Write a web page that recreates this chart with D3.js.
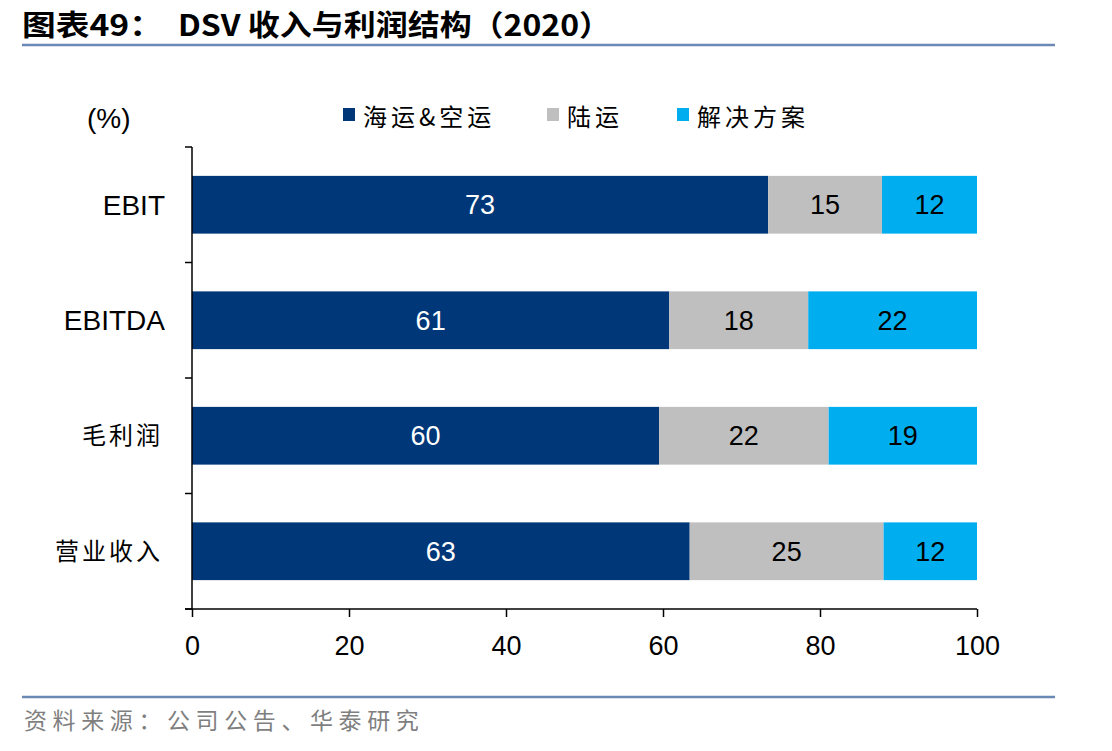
<!DOCTYPE html>
<html>
<head>
<meta charset="utf-8">
<script src="https://cdn.jsdelivr.net/npm/d3@7"></script>
<style>
  body { margin: 0; background: #fff; }
  svg text { font-family: "Liberation Sans", Arial, sans-serif; }
  .cjk { font-family: "Noto Sans CJK SC", sans-serif; }
</style>
</head>
<body>
<svg id="chart" width="1112" height="751"></svg>
<script>
// categories and series (percent shares, labels are the rounded values)
const categories = ['EBIT', 'EBITDA', '毛利润', '营业收入'];
const seriesNames = ['海运&空运', '陆运', '解决方案'];
const seaAir = [73.4, 60.8, 59.5, 63.4];
const road = [14.5, 17.7, 21.6, 24.7];
const solutions = [12.1, 21.5, 18.9, 11.9];
const labelsSeaAir = ['73', '61', '60', '63'];
const labelsRoad = ['15', '18', '22', '25'];
const labelsSolutions = ['12', '22', '19', '12'];
const xTicks = [0, 20, 40, 60, 80, 100];

const colors = ['#003778', '#bfbfbf', '#00aeef'];
const labelColors = ['#ffffff', '#000000', '#000000'];

const svg = d3.select('#chart');

// title
svg.append('text')
  .attr('x', 22).attr('y', 36)
  .attr('class', 'cjk')
  .attr('textLength', 141).attr('lengthAdjust', 'spacingAndGlyphs')
  .style('font-size', '29px').style('font-weight', 'bold')
  .text('图表49：');
svg.append('text')
  .attr('x', 178).attr('y', 36)
  .attr('class', 'cjk')
  .attr('textLength', 433).attr('lengthAdjust', 'spacingAndGlyphs')
  .style('font-size', '29px').style('font-weight', 'bold')
  .text('DSV 收入与利润结构（2020）');

svg.append('line')
  .attr('x1', 22).attr('x2', 1055).attr('y1', 45).attr('y2', 45)
  .attr('stroke', '#6b89b5').attr('stroke-width', 2.5);

svg.append('line')
  .attr('x1', 22).attr('x2', 1055).attr('y1', 697).attr('y2', 697)
  .attr('stroke', '#6b89b5').attr('stroke-width', 2.5);

svg.append('text')
  .attr('x', 24).attr('y', 729)
  .attr('class', 'cjk')
  .attr('fill', '#7f7f7f')
  .style('font-size', '23px').style('letter-spacing', '5.6px')
  .text('资料来源：公司公告、华泰研究');

// scales
const x = d3.scaleLinear().domain([0, 100]).range([192, 977]);
const y = d3.scaleBand().domain(categories).range([147, 609]).paddingInner(0.5).paddingOuter(0.25);

// stacked data
const rows = categories.map((c, i) => ({
  cat: c,
  values: [seaAir[i], road[i], solutions[i]],
  labels: [labelsSeaAir[i], labelsRoad[i], labelsSolutions[i]]
}));

const g = svg.append('g');
rows.forEach(r => {
  let acc = 0;
  r.values.forEach((v, k) => {
    const x0 = acc, x1 = acc + v;
    acc = x1;
    g.append('rect')
      .attr('x', x(x0)).attr('width', x(x1) - x(x0))
      .attr('y', y(r.cat)).attr('height', y.bandwidth())
      .attr('fill', colors[k]);
    g.append('text')
      .attr('x', (x(x0) + x(x1)) / 2)
      .attr('y', y(r.cat) + y.bandwidth() / 2)
      .attr('dy', '0.35em')
      .attr('text-anchor', 'middle')
      .attr('fill', labelColors[k])
      .style('font-size', '27px')
      .text(r.labels[k]);
  });
});

// x axis
const xAxis = svg.append('g')
  .attr('transform', 'translate(0,609)')
  .call(d3.axisBottom(x).tickValues(xTicks).tickSize(8).tickSizeOuter(0));
xAxis.select('.domain').attr('stroke', '#000').attr('stroke-width', 1.5)
  .attr('d', `M185,0H${x(100)}`);
xAxis.selectAll('.tick line').attr('stroke', '#000').attr('stroke-width', 1.5);
xAxis.selectAll('.tick text').attr('dy', 0).attr('y', 46)
  .style('font-size', '27px').style('font-family', '"Liberation Sans", Arial, sans-serif').attr('fill', '#000');

// y axis line with ticks at band boundaries
const bounds = categories.map(c => y(c) - y.step() * y.paddingInner() / 2).concat([609]);
svg.append('line')
  .attr('x1', 192).attr('x2', 192).attr('y1', bounds[0]).attr('y2', 609)
  .attr('stroke', '#000').attr('stroke-width', 1.5);
bounds.forEach(b => {
  svg.append('line')
    .attr('x1', 185).attr('x2', 192).attr('y1', b).attr('y2', b)
    .attr('stroke', '#000').attr('stroke-width', 1.5);
});

// category labels
categories.forEach(c => {
  const latin = /[A-Z]/.test(c);
  svg.append('text')
    .attr('x', latin ? 165 : 163)
    .attr('y', y(c) + y.bandwidth() / 2)
    .attr('dy', '0.35em')
    .attr('text-anchor', 'end')
    .attr('class', latin ? null : 'cjk')
    .style('font-size', latin ? '28px' : '24px')
    .style('letter-spacing', latin ? null : '3px')
    .text(c);
});

// unit
svg.append('text')
  .attr('x', 87).attr('y', 118).attr('dy', '0.35em')
  .style('font-size', '28px')
  .text('(%)');

// legend
const legendX = [343, 547, 677];
seriesNames.forEach((n, k) => {
  svg.append('rect')
    .attr('x', legendX[k]).attr('y', 108)
    .attr('width', 12).attr('height', 13)
    .attr('fill', colors[k]);
  svg.append('text')
    .attr('x', legendX[k] + 20).attr('y', 118).attr('dy', '0.35em')
    .attr('class', 'cjk')
    .style('font-size', '24px').style('letter-spacing', '4px')
    .text(n);
});
</script>
</body>
</html>
